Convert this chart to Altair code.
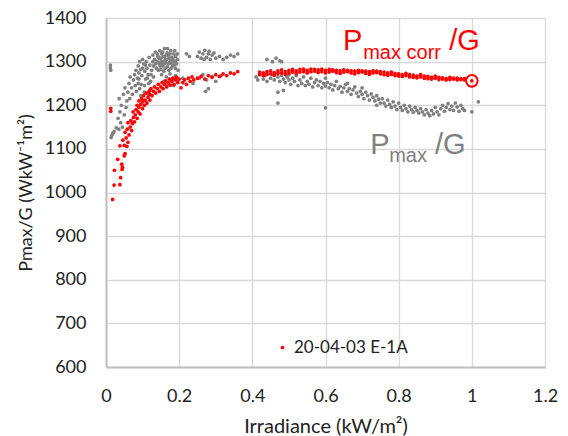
import altair as alt
import pandas as pd

# ---------------- data ----------------
gray_x = [0.012, 0.012, 0.013, 0.014, 0.016, 0.019,
          0.022, 0.028, 0.035, 0.045, 0.033, 0.038, 0.042, 0.036, 0.048, 0.052, 0.055, 0.04, 0.05, 0.057,
          0.06, 0.063, 0.066, 0.07, 0.072, 0.075, 0.078, 0.08, 0.083, 0.086, 0.088, 0.09, 0.092, 0.065,
          0.088, 0.092, 0.095, 0.098, 0.1, 0.103, 0.106, 0.108, 0.11, 0.112, 0.115, 0.118, 0.12, 0.122, 0.125, 0.128, 0.13, 0.096, 0.105,
          0.082, 0.09, 0.1, 0.108, 0.113, 0.117, 0.123,
          0.095, 0.1, 0.105, 0.11, 0.115, 0.12,
          0.128, 0.13, 0.133, 0.135, 0.138, 0.14, 0.142, 0.145, 0.147, 0.15, 0.15, 0.152, 0.155, 0.157, 0.16, 0.16, 0.162, 0.165, 0.167, 0.17,
          0.17, 0.172, 0.175, 0.177, 0.18, 0.182, 0.185, 0.187, 0.19, 0.19, 0.193, 0.195, 0.197, 0.143, 0.158, 0.168, 0.178, 0.188, 0.163, 0.153,
          0.135, 0.14, 0.145, 0.148, 0.155, 0.16, 0.165, 0.168, 0.172, 0.175, 0.18, 0.183, 0.186, 0.19, 0.195, 0.15, 0.157, 0.162, 0.173, 0.178,
          0.152, 0.158, 0.165, 0.17, 0.175, 0.18, 0.185, 0.19, 0.195,
          0.22, 0.228,
          0.25, 0.255, 0.26, 0.265, 0.27, 0.275, 0.28, 0.285, 0.29, 0.295, 0.3, 0.31, 0.32, 0.33, 0.34, 0.35, 0.36, 0.268, 0.282,
          0.255, 0.265, 0.275, 0.29, 0.3, 0.315,
          0.272, 0.28, 0.238, 0.21,
          0.44, 0.455, 0.465, 0.475, 0.48,
          0.41, 0.415, 0.42, 0.43, 0.435, 0.44, 0.45, 0.455, 0.46, 0.47, 0.475, 0.48, 0.485, 0.49, 0.495, 0.5,
          0.47, 0.485, 0.47,
          0.5, 0.505, 0.51, 0.515, 0.52, 0.525, 0.53, 0.535, 0.54, 0.545, 0.55, 0.555, 0.56, 0.565, 0.57, 0.575, 0.58, 0.585, 0.59, 0.595, 0.6, 0.6,
          0.605, 0.61, 0.615, 0.62, 0.625, 0.63, 0.635, 0.64, 0.645, 0.65, 0.655, 0.66, 0.665, 0.67, 0.675, 0.68, 0.685, 0.69, 0.695, 0.7,
          0.705, 0.71, 0.715, 0.72, 0.725, 0.73, 0.735, 0.74, 0.745, 0.75, 0.6, 0.66, 0.7, 0.74,
          0.755, 0.76, 0.765, 0.77, 0.775, 0.78, 0.785, 0.79, 0.795, 0.8, 0.805, 0.81, 0.815, 0.82, 0.825, 0.83, 0.835, 0.84, 0.845, 0.85, 0.855, 0.86,
          0.865, 0.87, 0.875, 0.88, 0.885, 0.89, 0.895, 0.9, 0.905, 0.91, 0.915, 0.92, 0.925, 0.93, 0.935, 0.94, 0.945, 0.95, 0.955, 0.96, 0.965, 0.97, 0.975, 0.98,
          1.0, 1.018]
gray_y = [1292, 1286, 1280, 1126, 1131, 1136,
          1140, 1148, 1145, 1150, 1170, 1185, 1200, 1215, 1225, 1240, 1195, 1160, 1178, 1210,
          1230, 1250, 1265, 1240, 1225, 1258, 1270, 1245, 1232, 1262, 1250, 1274, 1238, 1215,
          1290, 1300, 1282, 1268, 1305, 1295, 1278, 1260, 1300, 1285, 1270, 1310, 1292, 1255, 1280, 1300, 1265, 1248, 1245,
          1280, 1260, 1285, 1292, 1262, 1250, 1270,
          1222, 1212, 1230, 1208, 1225, 1235,
          1315, 1290, 1305, 1322, 1285, 1300, 1312, 1295, 1325, 1282, 1308, 1318, 1290, 1300, 1312, 1330, 1285, 1305, 1320, 1295,
          1315, 1280, 1300, 1325, 1310, 1290, 1318, 1300, 1285, 1312, 1295, 1305, 1280, 1280, 1278, 1330, 1285, 1325, 1298, 1297,
          1295, 1318, 1308, 1290, 1322, 1295, 1315, 1288, 1308, 1318, 1295, 1305, 1292, 1300, 1318, 1300, 1312, 1305, 1298, 1302,
          1270, 1255, 1265, 1248, 1272, 1260, 1245, 1268, 1255,
          1318, 1312,
          1312, 1322, 1308, 1318, 1326, 1310, 1318, 1305, 1315, 1320, 1308, 1312, 1305, 1310, 1315, 1312, 1318, 1305, 1324,
          1262, 1270, 1258, 1266, 1255, 1268,
          1232, 1238, 1250, 1262,
          1305, 1300, 1308, 1302, 1300,
          1265, 1258, 1272, 1260, 1268, 1255, 1262, 1270, 1258, 1265, 1255, 1268, 1260, 1252, 1265, 1258,
          1230, 1234, 1205,
          1270, 1248, 1262, 1255, 1268, 1245, 1258, 1250, 1265, 1245, 1255, 1248, 1262, 1242, 1252, 1258, 1245, 1255, 1240, 1250, 1262, 1244,
          1252, 1240, 1248, 1235, 1245, 1255, 1238, 1243, 1230, 1240, 1248, 1232, 1238, 1225, 1235, 1242, 1228, 1220, 1232, 1225,
          1215, 1230, 1222, 1212, 1226, 1218, 1210, 1222, 1214, 1205, 1194, 1250, 1240, 1200,
          1215, 1205, 1198, 1212, 1202, 1195, 1208, 1198, 1190, 1205, 1195, 1188, 1200, 1192, 1185, 1198, 1190, 1184, 1195, 1188, 1182, 1192,
          1185, 1178, 1190, 1182, 1176, 1188, 1180, 1195, 1185, 1178, 1192, 1200, 1186, 1195, 1204, 1190, 1198, 1188, 1205, 1196, 1186, 1200, 1192, 1188,
          1185, 1208]

red_x = [0.013, 0.013, 0.018, 0.022, 0.038, 0.04, 0.023, 0.044, 0.045, 0.043, 0.032, 0.05, 0.052, 0.038, 0.05, 0.057,
         0.046, 0.055, 0.06, 0.052, 0.058, 0.063, 0.066, 0.06, 0.07, 0.068, 0.072, 0.075, 0.078, 0.074, 0.08, 0.082,
         0.085, 0.085, 0.088, 0.09, 0.09, 0.093, 0.095, 0.097, 0.1, 0.1, 0.103, 0.105, 0.107, 0.11, 0.112, 0.115,
         0.118, 0.12, 0.12, 0.123, 0.126, 0.13, 0.133, 0.136, 0.14, 0.143, 0.146, 0.15, 0.153, 0.156, 0.16, 0.163,
         0.166, 0.17, 0.173, 0.176, 0.18, 0.183, 0.186, 0.19, 0.193, 0.196, 0.2, 0.205, 0.21, 0.215, 0.22, 0.225,
         0.23, 0.235, 0.24, 0.25, 0.26, 0.27, 0.28, 0.29, 0.3, 0.31, 0.32, 0.33, 0.34, 0.35, 0.36,
         0.42, 0.42, 0.43, 0.43, 0.44, 0.44, 0.45, 0.45, 0.46, 0.46, 0.47, 0.47, 0.48, 0.48, 0.49, 0.49,
         0.5, 0.5, 0.51, 0.51, 0.52, 0.52, 0.53, 0.53, 0.54, 0.54, 0.55, 0.55, 0.56, 0.56, 0.57, 0.57,
         0.58, 0.58, 0.59, 0.59, 0.6, 0.6, 0.61, 0.61, 0.62, 0.62, 0.63, 0.63, 0.64, 0.64, 0.65, 0.65,
         0.66, 0.66, 0.67, 0.67, 0.68, 0.68, 0.69, 0.69, 0.7, 0.7, 0.71, 0.71, 0.72, 0.72, 0.73, 0.73,
         0.74, 0.74, 0.75, 0.75, 0.76, 0.76, 0.77, 0.77, 0.78, 0.78, 0.79, 0.79, 0.8, 0.8, 0.81, 0.81,
         0.82, 0.82, 0.83, 0.83, 0.84, 0.84, 0.85, 0.85, 0.86, 0.86, 0.87, 0.87, 0.88, 0.88, 0.89, 0.89,
         0.9, 0.9, 0.91, 0.91, 0.92, 0.92, 0.93, 0.93, 0.94, 0.94, 0.95, 0.95, 0.96, 0.96, 0.97, 0.97,
         0.98, 0.98, 1.0]
red_y = [1193, 1186, 984, 1017, 1018, 1034, 1051, 1053, 1058, 1065, 1076, 1084, 1089, 1107, 1108, 1106,
         1120, 1125, 1115, 1138, 1145, 1132, 1150, 1160, 1142, 1165, 1158, 1172, 1162, 1185, 1178, 1190,
         1170, 1200, 1185, 1195, 1210, 1180, 1202, 1215, 1192, 1208, 1222, 1200, 1212, 1228, 1205, 1218,
         1232, 1212, 1225, 1238, 1222, 1232, 1242, 1228, 1238, 1248, 1232, 1242, 1252, 1238, 1248, 1256,
         1242, 1252, 1260, 1246, 1255, 1262, 1248, 1258, 1264, 1252, 1260, 1240, 1252, 1258, 1248, 1262,
         1255, 1265, 1258, 1262, 1266, 1260, 1268, 1264, 1270, 1266, 1272, 1268, 1274, 1272, 1277,
         1270, 1276, 1274, 1268, 1277, 1271, 1272, 1279, 1275, 1269, 1279, 1273, 1274, 1281, 1277, 1271,
         1280, 1274, 1276, 1282, 1279, 1273, 1282, 1276, 1277, 1283, 1280, 1274, 1283, 1277, 1278, 1282,
         1281, 1275, 1277, 1283, 1280, 1274, 1282, 1276, 1278, 1281, 1275, 1280, 1279, 1273, 1281, 1276,
         1277, 1280, 1274, 1279, 1278, 1272, 1280, 1275, 1276, 1279, 1273, 1278, 1277, 1271, 1279, 1274,
         1275, 1278, 1272, 1277, 1276, 1270, 1274, 1269, 1271, 1276, 1268, 1273, 1272, 1267, 1270, 1266,
         1268, 1273, 1265, 1270, 1269, 1264, 1267, 1263, 1265, 1270, 1262, 1267, 1266, 1261, 1264, 1260,
         1262, 1267, 1259, 1264, 1263, 1260, 1261, 1258, 1264, 1259, 1260, 1262, 1258, 1262, 1259, 1261,
         1258, 1261, 1256]

series_name = ["20-04-03 E-1A"]
marker_x = [1.0]
marker_y = [1256]

x_ticks = [0, 0.2, 0.4, 0.6, 0.8, 1.0, 1.2]
y_ticks = [600, 700, 800, 900, 1000, 1100, 1200, 1300, 1400]

# annotation pieces (text, x, y, size) in data units
red_ann_text = ["P", "max corr", "/G"]
red_ann_x = [0.648, 0.703, 0.938]
red_ann_y = [1327, 1306, 1327]
red_ann_size = [29, 20, 29]
gray_ann_text = ["P", "max", "/G"]
gray_ann_x = [0.722, 0.774, 0.899]
gray_ann_y = [1088, 1070, 1088]
gray_ann_size = [29, 20, 29]

# ---------------- chart ----------------
gray_df = pd.DataFrame({"x": gray_x, "y": gray_y})
red_df = pd.DataFrame({"x": red_x, "y": red_y, "s": series_name * len(red_x)})
marker_df = pd.DataFrame({"x": marker_x, "y": marker_y})
red_ann = pd.DataFrame({"t": red_ann_text, "x": red_ann_x, "y": red_ann_y, "size": red_ann_size})
gray_ann = pd.DataFrame({"t": gray_ann_text, "x": gray_ann_x, "y": gray_ann_y, "size": gray_ann_size})

FONT = "Lato"
TXT = "#222222"

xs = alt.Scale(domain=[0, 1.2], nice=False)
ys = alt.Scale(domain=[600, 1400], nice=False)

x_axis = alt.Axis(values=x_ticks, format="~g", title="Irradiance (kW/m²)", ticks=False,
                  labelPadding=20, titlePadding=11, titleFontSize=20, labelFlush=False)
y_axis = alt.Axis(values=y_ticks, format="d", title="Pmax/G (WkW⁻¹m²)", ticks=False,
                  labelPadding=20, titlePadding=9, titleFontSize=18)

base_x = alt.X("x:Q", scale=xs, axis=x_axis)
base_y = alt.Y("y:Q", scale=ys, axis=y_axis)

gray_layer = alt.Chart(gray_df).mark_circle(size=14, color="#808080", opacity=1).encode(
    x=base_x, y=base_y)

red_layer = alt.Chart(red_df).mark_circle(size=14, opacity=1).encode(
    x="x:Q", y="y:Q",
    color=alt.Color("s:N", scale=alt.Scale(domain=series_name, range=["#FF0000"]),
                    legend=alt.Legend(title=None, orient="none", legendX=168, legendY=321,
                                      symbolSize=14, symbolType="circle", labelFontSize=17,
                                      labelFont=FONT, labelColor=TXT, labelOffset=3, padding=0,
                                      symbolStrokeWidth=0)))

marker_layer = alt.Chart(marker_df).mark_point(shape="circle", filled=False, size=135,
                                                strokeWidth=2, color="#FF0000", opacity=1).encode(
    x="x:Q", y="y:Q")

red_text = alt.Chart(red_ann).mark_text(align="left", baseline="alphabetic", color="#FF0000",
                                        font="Liberation Sans").encode(
    x="x:Q", y="y:Q", text="t:N", size=alt.Size("size:Q", scale=None, legend=None))
gray_text = alt.Chart(gray_ann).mark_text(align="left", baseline="alphabetic", color="#808080",
                                          font="Liberation Sans").encode(
    x="x:Q", y="y:Q", text="t:N", size=alt.Size("size:Q", scale=None, legend=None))

chart = alt.layer(gray_layer, red_layer, marker_layer, red_text, gray_text).properties(
    width=439, height=349,
    autosize=alt.AutoSizeParams(type="none"),
    padding={"left": 98, "top": 10, "right": 15, "bottom": 69},
).configure_view(strokeWidth=0).configure_axis(
    labelFont=FONT, titleFont=FONT, labelFontSize=18,
    labelColor=TXT, titleColor=TXT, titleFontWeight="normal",
    gridColor="#d9d9d9", gridWidth=1.3, domainColor="#bfbfbf", domainWidth=2,
).configure_axisX(grid=True).configure_axisY(grid=True)

chart.save("out.html", embed_options={"renderer": "svg", "actions": False})
